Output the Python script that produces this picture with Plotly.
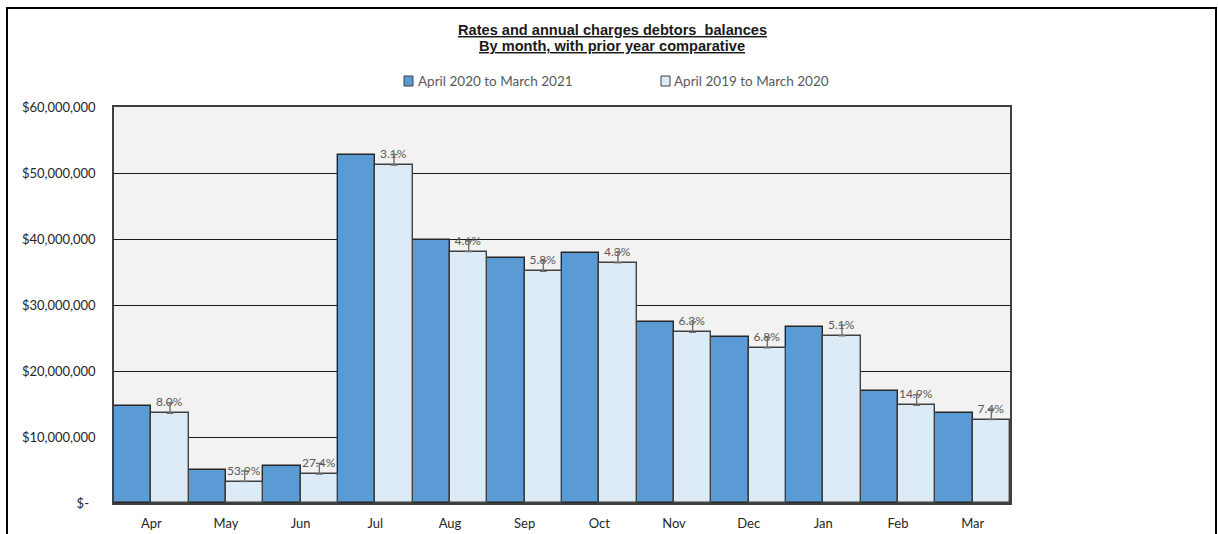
import plotly.graph_objects as go

months = ["Apr", "May", "Jun", "Jul", "Aug", "Sep", "Oct", "Nov", "Dec", "Jan", "Feb", "Mar"]
current_year = [14.7e6, 5.0e6, 5.6e6, 52.8e6, 39.85e6, 37.1e6, 37.95e6, 27.5e6, 25.15e6, 26.7e6, 17.0e6, 13.6e6]
prior_year = [13.6e6, 3.25e6, 4.4e6, 51.2e6, 38.1e6, 35.1e6, 36.4e6, 25.85e6, 23.5e6, 25.35e6, 14.8e6, 12.65e6]
pct_labels = ["8.0%", "53.9%", "27.4%", "3.1%", "4.6%", "5.8%", "4.3%", "6.3%", "6.8%", "5.1%", "14.9%", "7.4%"]
error_len = [1.6e6] * 12
tick_vals = [0, 10e6, 20e6, 30e6, 40e6, 50e6, 60e6]
tick_text = ["$-\u00a0\u00a0", "$10,000,000", "$20,000,000", "$30,000,000", "$40,000,000", "$50,000,000", "$60,000,000"]
series_names = ["April 2020 to March 2021", "April 2019 to March 2020"]
title_lines = ["Rates and annual charges debtors  balances", "By month, with prior year comparative"]
colors = ["#5B9BD5", "#DDEBF7"]

W, H = 1218, 534
L, R, T, B = 114, 1010, 107, 503


def px(x):
    return (x - L) / (R - L)


def py(y):
    return (B - y) / (B - T)


fig = go.Figure()
fig.add_trace(go.Bar(
    x=months, y=current_year, name=series_names[0],
    marker=dict(color=colors[0], line=dict(color="#262626", width=1.4)),
    showlegend=False,
))
fig.add_trace(go.Bar(
    x=months, y=prior_year, name=series_names[1],
    marker=dict(color=colors[1], line=dict(color="#404040", width=1.4)),
    text=pct_labels, textposition="outside", constraintext="none",
    textfont=dict(family="Lato", size=12, color="#595959"),
    error_y=dict(type="data", array=error_len, arrayminus=[0] * 12, symmetric=False,
                 color="#707070", thickness=1.4, width=3.5),
    cliponaxis=False,
    showlegend=False,
))

shapes = [
    dict(type="rect", xref="paper", yref="paper", x0=px(7), x1=px(1216), y0=py(545), y1=py(8),
         line=dict(color="black", width=2), fillcolor="rgba(0,0,0,0)", layer="above"),
    dict(type="rect", xref="paper", yref="paper", x0=px(404), x1=px(413), y0=py(86), y1=py(76),
         line=dict(color="#404040", width=1), fillcolor=colors[0]),
    dict(type="rect", xref="paper", yref="paper", x0=px(661), x1=px(670), y0=py(86), y1=py(76),
         line=dict(color="#404040", width=1), fillcolor=colors[1]),
]

annotations = [
    dict(text="<b><u>" + title_lines[0] + "</u></b>",
         xref="paper", yref="paper", x=px(612), y=py(30), xanchor="center", yanchor="middle",
         showarrow=False, font=dict(family="Liberation Sans", size=14.6, color="#1a1a1a")),
    dict(text="<b><u>" + title_lines[1] + "</u></b>",
         xref="paper", yref="paper", x=px(612), y=py(46), xanchor="center", yanchor="middle",
         showarrow=False, font=dict(family="Liberation Sans", size=14.6, color="#1a1a1a")),
    dict(text=series_names[0], xref="paper", yref="paper", x=px(416), y=py(81),
         xanchor="left", yanchor="middle", showarrow=False,
         font=dict(family="Lato", size=13.5, color="#595959")),
    dict(text=series_names[1], xref="paper", yref="paper", x=px(672), y=py(81),
         xanchor="left", yanchor="middle", showarrow=False,
         font=dict(family="Lato", size=13.5, color="#595959")),
]

fig.update_layout(
    width=W, height=H,
    margin=dict(l=L, r=W - R, t=T, b=H - B, pad=0, autoexpand=False),
    paper_bgcolor="white", plot_bgcolor="#F2F2F2",
    barmode="group", bargap=0, bargroupgap=0,
    shapes=shapes, annotations=annotations,
    font=dict(family="Lato", size=13, color="#262626"),
    showlegend=False,
)
fig.update_yaxes(range=[0, 60e6], tickvals=tick_vals, ticktext=tick_text,
                 showgrid=True, gridcolor="#1a1a1a", gridwidth=1,
                 showline=True, linecolor="#404040", linewidth=1.5, mirror=True,
                 ticks="", ticklabelstandoff=14, zeroline=False, automargin=False,
                 tickfont=dict(family="Lato", size=13, color="#262626"))
fig.update_xaxes(showline=True, linecolor="#404040", linewidth=1.5, mirror=True,
                 ticks="", ticklabelstandoff=8, automargin=False,
                 tickfont=dict(family="Lato", size=13, color="#262626"))

fig.write_html("out.html", config={"displayModeBar": False},
               post_script="document.body.style.margin='0';document.body.style.overflow='hidden';")
